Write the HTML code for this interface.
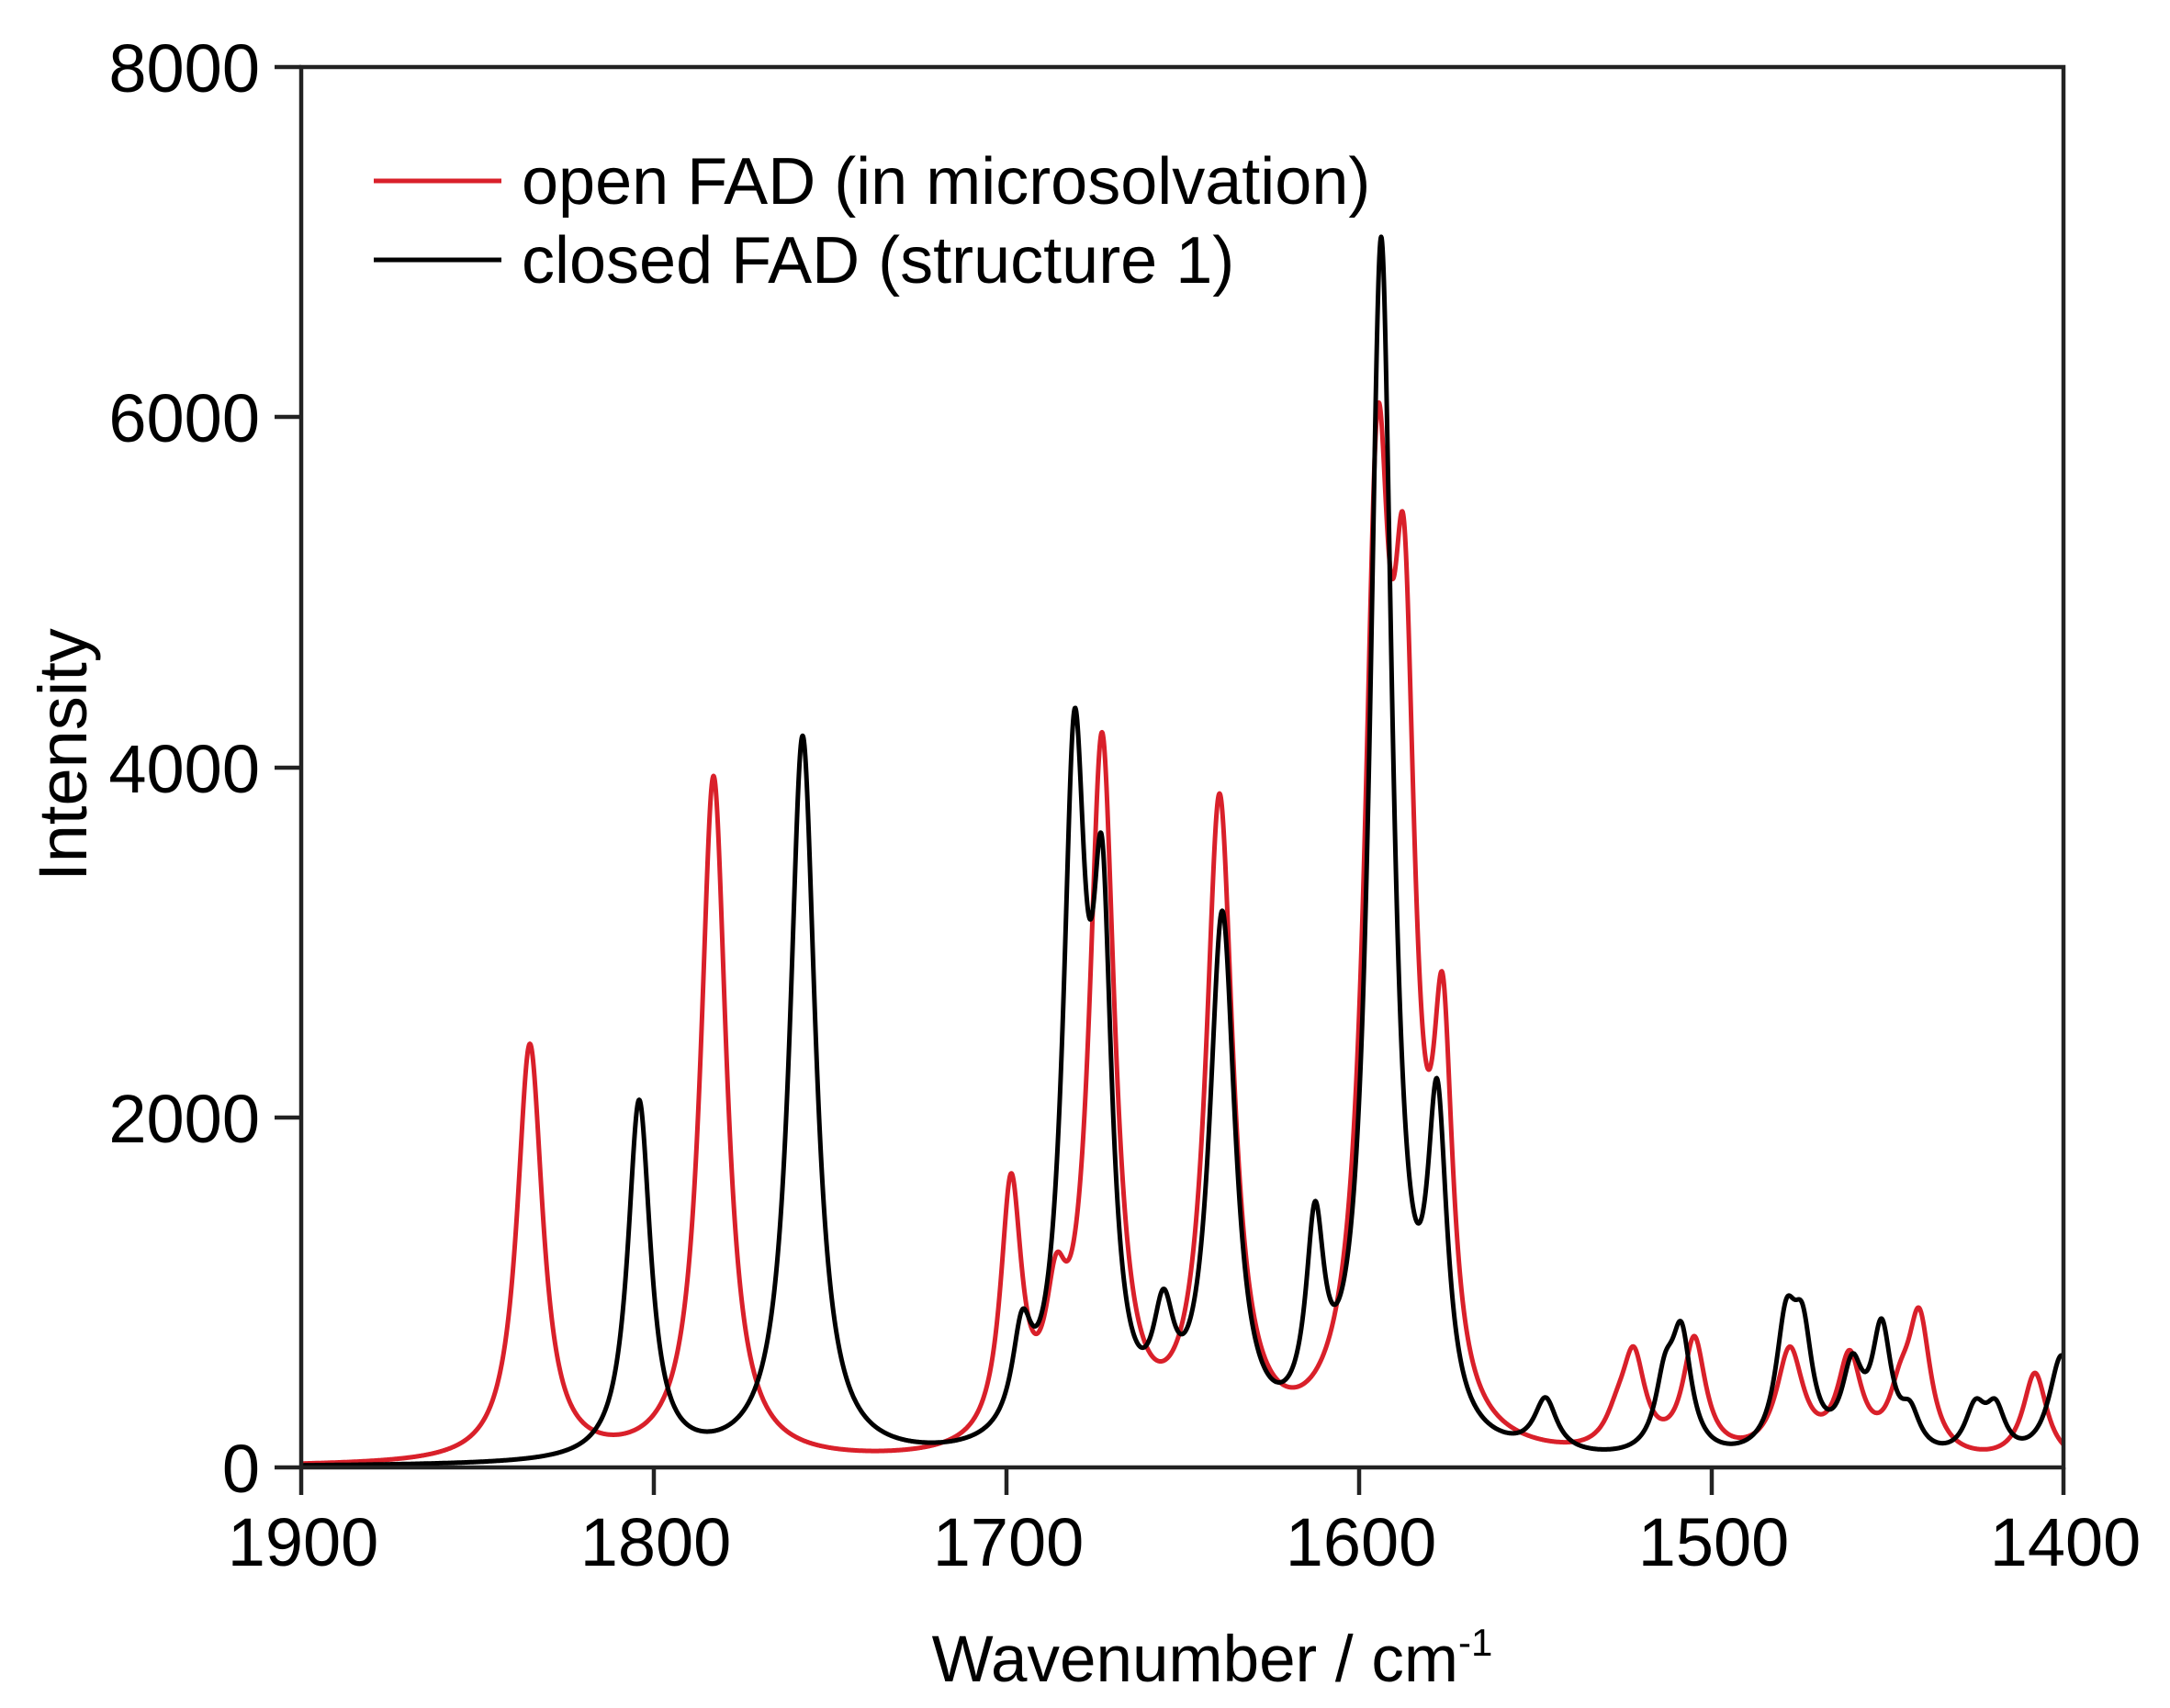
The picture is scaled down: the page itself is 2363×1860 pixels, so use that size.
<!DOCTYPE html>
<html><head><meta charset="utf-8"><style>
html,body{margin:0;padding:0;background:#fff;}
svg{display:block;font-family:"Liberation Sans",Arial,sans-serif;}
</style></head><body>
<svg id="s" width="2363" height="1860" viewBox="0 0 2363 1860" xmlns="http://www.w3.org/2000/svg">
<rect width="2363" height="1860" fill="#fff"/>
<g id="curves"></g>
<g stroke="#222" stroke-width="4.5" fill="none">
<rect x="328" y="73" width="1919" height="1525"/>
<line x1="299" y1="73" x2="328" y2="73"/>
<line x1="299" y1="454" x2="328" y2="454"/>
<line x1="299" y1="836" x2="328" y2="836"/>
<line x1="299" y1="1217" x2="328" y2="1217"/>
<line x1="299" y1="1598" x2="328" y2="1598"/>
<line x1="328" y1="1598" x2="328" y2="1628"/>
<line x1="712" y1="1598" x2="712" y2="1628"/>
<line x1="1096" y1="1598" x2="1096" y2="1628"/>
<line x1="1480" y1="1598" x2="1480" y2="1628"/>
<line x1="1864" y1="1598" x2="1864" y2="1628"/>
<line x1="2247" y1="1598" x2="2247" y2="1628"/>
</g>
<g font-size="74" fill="#000" text-anchor="end">
<text x="283" y="100">8000</text>
<text x="283" y="481">6000</text>
<text x="283" y="863">4000</text>
<text x="283" y="1244">2000</text>
<text x="283" y="1625">0</text>
</g>
<g font-size="74" fill="#000" text-anchor="middle">
<text x="330" y="1705">1900</text>
<text x="714" y="1705">1800</text>
<text x="1098" y="1705">1700</text>
<text x="1482" y="1705">1600</text>
<text x="1866" y="1705">1500</text>
<text x="2249" y="1705">1400</text>
</g>
<text x="1320" y="1831" font-size="71" text-anchor="middle">Wavenumber / cm<tspan font-size="42" dy="-28">-1</tspan></text>
<text transform="translate(94,822) rotate(-90)" font-size="74" text-anchor="middle">Intensity</text>
<line x1="407" y1="197" x2="546" y2="197" stroke="#d9202a" stroke-width="5"/>
<line x1="407" y1="283" x2="546" y2="283" stroke="#000" stroke-width="5"/>
<text x="568" y="222" font-size="72">open FAD (in microsolvation)</text>
<text x="568" y="308" font-size="72">closed FAD (structure 1)</text>
</svg>
<script>
(function(){
var red=[[577,2420,17],[777,3950,17],[1101,1680,14],[1150,1220,14],[1200,4200,17],[1328,3850,18],[1500,6050,17],[1529,5400,15],[1571,2820,13],[1761,450,16],[1779,690,15],[1845,750,15],[1949,690,18],[2014,670,16],[2069,600,15],[2090,910,15],[2216,540,16]];
var blk=[[696,2100,15],[874,4180,17],[1113,900,13],[1170,4330,15],[1200,3600,13],[1267,1020,14],[1331,3180,17],[1432,1520,12],[1504,7030,15],[1565,2220,13],[1683,400,15],[1813,650,13],[1831,830,13],[1945,960,14],[1963,930,13],[2017,650,14],[2049,850,13],[2080,380,13],[2151,390,14],[2173,390,13],[2245,640,17]];
function fit(p){
 var a=p.map(function(q){return q[1];});
 function f(x){var s=0;for(var i=0;i<p.length;i++){var g=p[i][2],d=x-p[i][0];s+=a[i]*g*g/(g*g+d*d);}return s;}
 for(var it=0;it<100;it++){for(var i=0;i<p.length;i++){a[i]+=0.5*(p[i][1]-f(p[i][0]));if(a[i]<0)a[i]=0;}}
 return f;
}
function path(p,col,w){
 var f=fit(p),d="";
 for(var X=328;X<=2247;X+=0.5){
  var Y=1598-f(X)*(1525/8000);
  d+=(X===328?"M":"L")+X.toFixed(1)+","+Y.toFixed(1);
 }
 var el=document.createElementNS("http://www.w3.org/2000/svg","path");
 el.setAttribute("d",d);el.setAttribute("fill","none");el.setAttribute("stroke",col);el.setAttribute("stroke-width",w);el.setAttribute("stroke-linejoin","round");
 document.getElementById("curves").appendChild(el);
}
path(red,"#d9202a",5);
path(blk,"#000",5);
})();
</script>
</body></html>
